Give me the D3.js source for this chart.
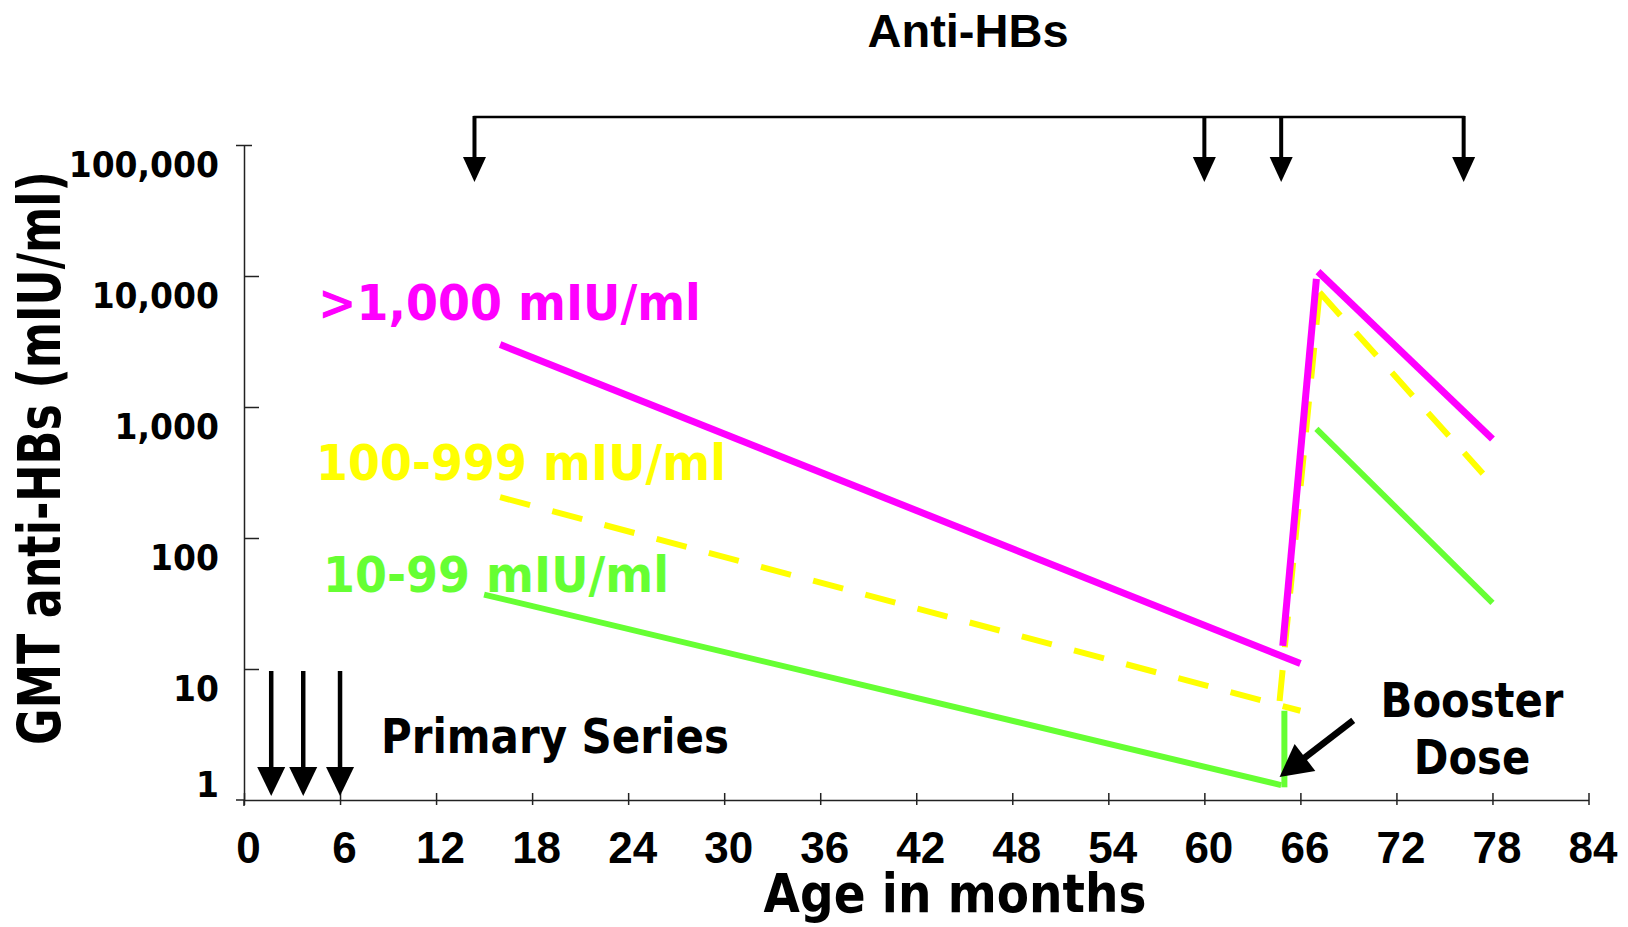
<!DOCTYPE html>
<html>
<head>
<meta charset="utf-8">
<script src="https://cdn.jsdelivr.net/npm/d3@7"></script>
<style>
  body { margin: 0; background: #fff; }
</style>
</head>
<body>
<div id="chart"></div>
<script>
// Data (month, GMT anti-HBs in mIU/ml)
const monthTicks = [0, 6, 12, 18, 24, 30, 36, 42, 48, 54, 60, 66, 72, 78, 84];
const gmtTicks = [1, 10, 100, 1000, 10000, 100000];
const gmtTickLabels = ["1", "10", "100", "1,000", "10,000", "100,000"];

const seriesNames = [">1,000 mIU/ml", "100-999 mIU/ml", "10-99 mIU/ml"];
const seriesColors = ["#ff00ff", "#ffff00", "#66ff33"];

const highBefore = [[16, 3000], [66, 11]];
const highBoost = [[64.9, 15], [67, 9500]];
const highAfter = [[67.1, 10800], [78, 570]];

const midBefore = [[16, 205], [66, 4.8]];
const midBoost = [[64.7, 5.7], [67.2, 7500]];
const midAfter = [[67.2, 7500], [77.4, 310]];

const lowBefore = [[15, 37], [64.8, 1.3]];
const lowBoost = [[65, 1.25], [65, 4.8]];
const lowAfter = [[67, 680], [78, 32]];

// annotation arrows
const primaryDoses = [1.7, 3.7, 6];
const antiHbsTests = [14.4, 60, 64.8, 76.2];
const boosterArrow = [[69.3, 4.05], [64.7, 1.5]];

// Layout
const W = 1628, H = 927;
const VERDANA = "'DejaVu Sans', Verdana, sans-serif";
const ARIAL = "'Liberation Sans', Arial, sans-serif";

const svg = d3.select("#chart").append("svg")
  .attr("width", W)
  .attr("height", H)
  .style("background", "#fff");

const x = d3.scaleLinear().domain([0, 84]).range([244, 1588.5]);
const y = d3.scaleLog().domain([1, 100000]).range([800, 145]);

// text helper, sx squeezes horizontally (the slide fonts are narrow)
function label(str, px, py, o) {
  return svg.append("text")
    .attr("transform", `translate(${px},${py}) rotate(${o.rotate || 0}) scale(${o.sx || 1},1)`)
    .attr("font-family", o.family || VERDANA)
    .attr("font-weight", "bold")
    .attr("font-size", o.size)
    .attr("text-anchor", o.anchor || "start")
    .attr("fill", o.fill || "#000")
    .text(str);
}

// draws a straight arrow with a filled triangular head
function arrow(x1, y1, x2, y2, shaft, headLen, headW) {
  const dx = x2 - x1, dy = y2 - y1;
  const len = Math.hypot(dx, dy);
  const ux = dx / len, uy = dy / len;
  const bx = x2 - ux * headLen, by = y2 - uy * headLen;
  svg.append("line")
    .attr("x1", x1).attr("y1", y1)
    .attr("x2", bx + ux).attr("y2", by + uy)
    .attr("stroke", "#000")
    .attr("stroke-width", shaft);
  svg.append("path")
    .attr("d", `M${x2},${y2}L${bx - uy * headW / 2},${by + ux * headW / 2}L${bx + uy * headW / 2},${by - ux * headW / 2}Z`)
    .attr("fill", "#000");
}

// Axes
const xAxis = svg.append("g")
  .attr("transform", "translate(0,800)")
  .call(d3.axisBottom(x).tickValues(monthTicks).tickSizeInner(-7).tickSizeOuter(0));
xAxis.selectAll(".tick line").attr("y2", -7).attr("y1", 5);
xAxis.selectAll(".tick text")
  .attr("y", 63)
  .attr("dy", null)
  .attr("x", 4)
  .attr("font-family", ARIAL)
  .attr("font-weight", "bold")
  .attr("font-size", 44);

const yAxis = svg.append("g")
  .attr("transform", "translate(244,0)")
  .call(d3.axisLeft(y).tickValues(gmtTicks).tickSizeInner(-15).tickSizeOuter(0)
    .tickFormat((d, i) => gmtTickLabels[i]));
yAxis.selectAll(".tick text")
  .attr("x", 0)
  .attr("dy", null)
  .attr("transform", (d) => `translate(-25,${d === 1 ? -4 : 31}) scale(0.93,1)`)
  .attr("y", null)
  .attr("font-family", VERDANA)
  .attr("font-weight", "bold")
  .attr("font-size", 35.5);
yAxis.selectAll(".tick").filter((d) => d === 1).select("line").remove();
yAxis.selectAll(".tick").filter((d) => d === 100000).select("line").attr("x1", -8).attr("x2", 8);

svg.selectAll(".domain").attr("stroke", "#222").attr("stroke-width", 1.5);
svg.selectAll(".tick line").attr("stroke", "#222").attr("stroke-width", 1.5);
// small overhang of the axis lines at the origin
svg.append("line").attr("x1", 236).attr("x2", 244).attr("y1", 800).attr("y2", 800).attr("stroke", "#222").attr("stroke-width", 1.5);
svg.append("line").attr("x1", 244).attr("x2", 244).attr("y1", 800).attr("y2", 806).attr("stroke", "#222").attr("stroke-width", 1.5);

// Series lines
const line = d3.line().x((d) => x(d[0])).y((d) => y(d[1]));

function drawSeries(pts, color, width, dashed) {
  svg.append("path")
    .datum(pts)
    .attr("d", line)
    .attr("fill", "none")
    .attr("stroke", color)
    .attr("stroke-width", width)
    .attr("stroke-dasharray", dashed ? "31,23" : null);
}

drawSeries(midBefore, seriesColors[1], 6, true);
drawSeries(midBoost, seriesColors[1], 6, true);
drawSeries(midAfter, seriesColors[1], 6, true);
drawSeries(lowBefore, seriesColors[2], 6, false);
drawSeries(lowBoost, seriesColors[2], 6, false);
drawSeries(lowAfter, seriesColors[2], 6, false);
drawSeries(highBefore, seriesColors[0], 7, false);
drawSeries(highBoost, seriesColors[0], 7, false);
drawSeries(highAfter, seriesColors[0], 7, false);

// Series labels
label(seriesNames[0], 318, 320, { size: 50, sx: 0.92, fill: seriesColors[0] });
label(seriesNames[1], 316, 480, { size: 50, sx: 0.92, fill: seriesColors[1] });
label(seriesNames[2], 323, 592, { size: 50, sx: 0.92, fill: seriesColors[2] });

// Anti-HBs bracket with arrows
svg.append("line")
  .attr("x1", x(antiHbsTests[0]) - 1).attr("x2", x(antiHbsTests[antiHbsTests.length - 1]) + 1)
  .attr("y1", 117).attr("y2", 117)
  .attr("stroke", "#000").attr("stroke-width", 2.5);
antiHbsTests.forEach((m) => arrow(x(m), 116, x(m), 182, 4, 25, 23));
label("Anti-HBs", 968, 47, { size: 47, family: ARIAL, anchor: "middle" });

// Primary series arrows
primaryDoses.forEach((m) => arrow(x(m), 671, x(m), 796, 4.5, 29, 28));
label("Primary Series", 381, 753, { size: 48, sx: 0.875 });

// Booster dose arrow
arrow(x(boosterArrow[0][0]), y(boosterArrow[0][1]), x(boosterArrow[1][0]), y(boosterArrow[1][1]), 6.5, 32, 34);
label("Booster", 1472, 717, { size: 48, sx: 0.87, anchor: "middle" });
label("Dose", 1472, 774, { size: 48, sx: 0.87, anchor: "middle" });

// Axis titles
label("Age in months", 955, 912, { size: 53, sx: 0.887, anchor: "middle" });
label("GMT anti-HBs (mIU/ml)", 60, 458, { size: 58, sx: 0.767, anchor: "middle", rotate: -90 });
</script>
</body>
</html>
